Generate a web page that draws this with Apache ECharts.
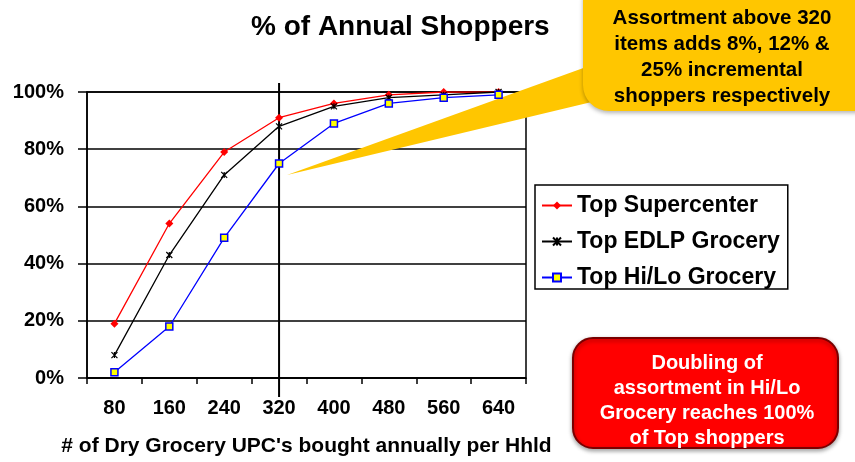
<!DOCTYPE html>
<html>
<head>
<meta charset="utf-8">
<script src="https://cdn.jsdelivr.net/npm/echarts@6/dist/echarts.min.js"></script>
<style>
  html, body { margin: 0; padding: 0; background: #fff; }
  #chart { width: 855px; height: 462px; }
</style>
</head>
<body>
<div id="chart"></div>
<script>
const FONT = '"Liberation Sans", Arial, sans-serif';

const categories = ['80', '160', '240', '320', '400', '480', '560', '640'];
const supercenter = [19, 54, 79, 91, 96, 99, 100, 100];
const edlpGrocery = [8, 43, 71, 88, 95, 98, 99, 100];
const hiloGrocery = [2, 18, 49, 75, 89, 96, 98, 99];
const yTicks = [0, 20, 40, 60, 80, 100];

const calloutText = 'Assortment above 320\nitems adds 8%, 12% &\n25% incremental\nshoppers respectively';
const boxText = 'Doubling of\nassortment in Hi/Lo\nGrocery reaches 100%\nof Top shoppers';

const myChart = echarts.init(document.getElementById('chart'));

// callouts drawn on top of the chart
const decorations = [
  {
    type: 'polygon', z: 1,
    shape: { points: [[600, 62], [287, 175], [600, 100]] },
    style: { fill: '#FFC600' }
  },
  {
    type: 'rect', z: 5,
    shape: { x: 583, y: -25, width: 300, height: 136, r: 26 },
    style: { fill: '#FFC600', shadowBlur: 4, shadowColor: 'rgba(0,0,0,0.3)', shadowOffsetY: 2 }
  },
  {
    type: 'text', z: 6,
    style: {
      text: calloutText, x: 722, y: 57, fill: '#000',
      font: 'bold 20.5px ' + FONT, lineHeight: 26,
      align: 'center', verticalAlign: 'middle',
      textAlign: 'center', textVerticalAlign: 'middle'
    }
  },
  {
    type: 'rect', z: 5,
    shape: { x: 573, y: 338, width: 265, height: 110, r: 20 },
    style: { fill: '#FF0000', stroke: '#7a0000', lineWidth: 2, shadowBlur: 4, shadowColor: 'rgba(0,0,0,0.35)', shadowOffsetY: 2 }
  },
  {
    type: 'text', z: 6,
    style: {
      text: boxText, x: 707, y: 401, fill: '#fff',
      font: 'bold 20px ' + FONT, lineHeight: 25,
      align: 'center', verticalAlign: 'middle',
      textAlign: 'center', textVerticalAlign: 'middle'
    }
  }
];

const option = {
  animation: false,
  backgroundColor: '#fff',
  title: {
    text: '% of Annual Shoppers',
    left: 246, top: 8,
    textStyle: { fontFamily: FONT, fontSize: 28, fontWeight: 'bold', color: '#000' }
  },
  legend: {
    orient: 'vertical',
    left: 535, top: 185,
    padding: [9, 8, 0, 6],
    itemGap: 13,
    itemWidth: 30, itemHeight: 10,
    backgroundColor: '#fff',
    borderColor: '#000', borderWidth: 1.5, borderRadius: 0,
    textStyle: { fontFamily: FONT, fontSize: 23, fontWeight: 'bold', color: '#000', lineHeight: 22 },
    data: ['Top Supercenter', 'Top EDLP Grocery', 'Top Hi/Lo Grocery']
  },
  grid: {
    left: 87, right: 329, top: 92, bottom: 80,
    show: true, borderColor: '#000', borderWidth: 1.5
  },
  xAxis: {
    type: 'category',
    data: categories,
    boundaryGap: true,
    name: "# of Dry Grocery UPC's bought annually per Hhld",
    nameLocation: 'middle',
    nameGap: 58,
    nameTextStyle: { fontFamily: FONT, fontSize: 21, fontWeight: 'bold', color: '#000' },
    axisLine: { lineStyle: { color: '#000', width: 1.5 } },
    axisTick: { show: true, inside: false, length: 6, lineStyle: { color: '#000', width: 1.5 } },
    axisLabel: { margin: 20, fontFamily: FONT, fontSize: 20, fontWeight: 'bold', color: '#000' },
    splitLine: { show: false }
  },
  yAxis: {
    type: 'value',
    min: yTicks[0], max: yTicks[yTicks.length - 1], interval: 20,
    axisLine: { show: true, lineStyle: { color: '#000', width: 1.5 } },
    axisTick: { show: true, inside: false, length: 9, lineStyle: { color: '#000', width: 1.5 } },
    axisLabel: { margin: 23, formatter: '{value}%', fontFamily: FONT, fontSize: 20, fontWeight: 'bold', color: '#000' },
    splitLine: { show: true, lineStyle: { color: '#000', width: 1.5 } }
  },
  series: [
    {
      name: 'Top Supercenter', type: 'line', data: supercenter,
      symbol: 'diamond', symbolSize: 8, showAllSymbol: true,
      lineStyle: { color: '#FF0000', width: 1.3 },
      itemStyle: { color: '#FF0000' },
      z: 3
    },
    {
      name: 'Top EDLP Grocery', type: 'line', data: edlpGrocery,
      symbol: 'path://M0,0L10,10M10,0L0,10M5,0L5,10', symbolSize: 6, showAllSymbol: true,
      lineStyle: { color: '#000', width: 1.3 },
      itemStyle: { color: '#000', borderColor: '#000', borderWidth: 1.2 },
      z: 3
    },
    {
      name: 'Top Hi/Lo Grocery', type: 'line', data: hiloGrocery,
      symbol: 'rect', symbolSize: 7, showAllSymbol: true,
      lineStyle: { color: '#0000FF', width: 1.3 },
      itemStyle: { color: '#FFFF00', borderColor: '#0000FF', borderWidth: 1.5 },
      z: 3
    }
  ],
  graphic: decorations
};

myChart.setOption(option);

// vertical marker through the 320 category, running past the plot edges
const x320 = myChart.convertToPixel({ xAxisIndex: 0 }, '320');
myChart.setOption({
  graphic: decorations.concat([{
    type: 'line', z: 2,
    shape: { x1: x320, y1: 83, x2: x320, y2: 397 },
    style: { stroke: '#000', lineWidth: 2 }
  }])
});
</script>
</body>
</html>
